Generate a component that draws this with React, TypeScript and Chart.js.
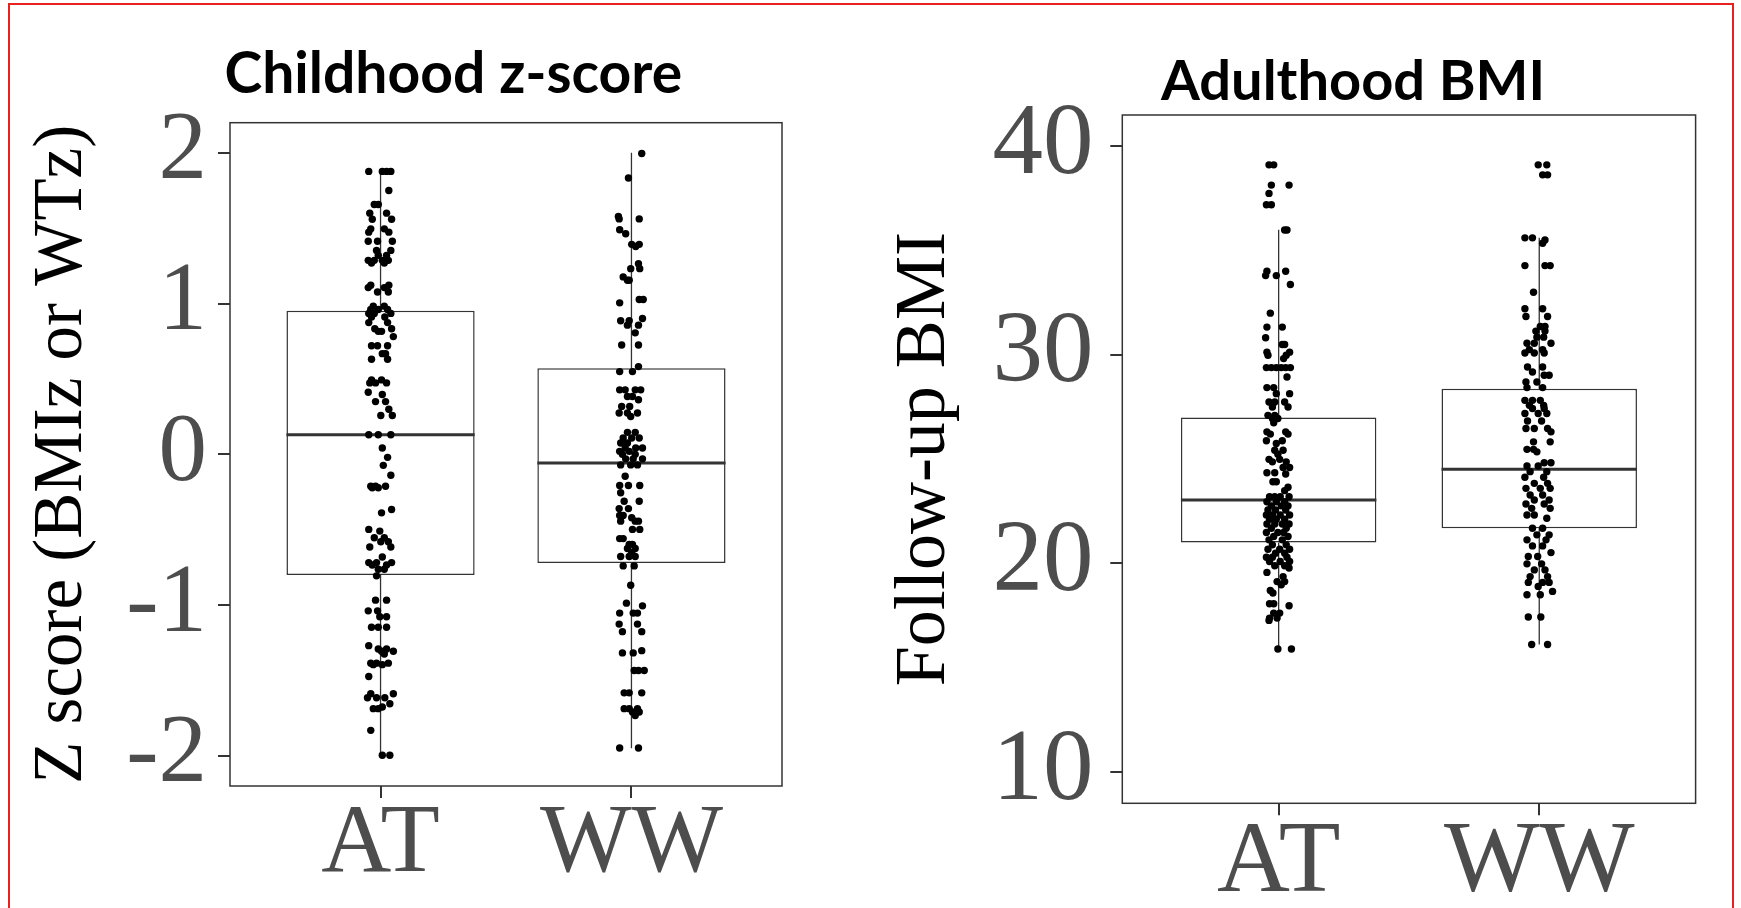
import React, { useEffect, useRef } from "react";
import { Chart, registerables } from "chart.js";

Chart.register(...registerables);

// ---------------- data ----------------
const categories = ["AT", "WW"];

const childhoodTitle = "Childhood z-score";
const childhoodAxisTitle = "Z score (BMIz or WTz)";
const childhoodTicks = [-2, -1, 0, 1, 2];
const childhoodRange = [-2.2, 2.2];
const childhoodMin = [-2.0, -1.95];
const childhoodQ1 = [-0.8, -0.72];
const childhoodMedian = [0.13, -0.057];
const childhoodQ3 = [0.952, 0.571];
const childhoodMax = [1.877, 2.0];

// [horizontal jitter (category units), value]
const childhoodAT: [number, number][] = [
  [-0.047, 1.877], [0.007, 1.877], [0.024, 1.877], [0.041, 1.877],
  [0.033, 1.75], [-0.025, 1.657], [-0.009, 1.657], [-0.043, 1.6], [0.024, 1.6],
  [-0.033, 1.56], [0.044, 1.56], [-0.039, 1.496], [0.015, 1.496], [-0.047, 1.474], [0.033, 1.474],
  [-0.049, 1.414], [-0.012, 1.414], [0.047, 1.414], [-0.016, 1.353], [0.041, 1.353],
  [-0.009, 1.32], [0.024, 1.32], [-0.049, 1.287], [-0.025, 1.287], [0.007, 1.287], [0.031, 1.287],
  [-0.036, 1.269], [0.015, 1.269], [-0.039, 1.122], [0.033, 1.122], [-0.049, 1.106], [0.015, 1.106],
  [-0.012, 1.077], [0.031, 1.077], [-0.029, 0.983], [0.015, 0.983],
  [-0.039, 0.961], [-0.009, 0.961], [0.028, 0.961], [-0.047, 0.935], [-0.025, 0.935], [0.041, 0.935],
  [-0.036, 0.911], [0.017, 0.911], [-0.047, 0.874], [0.028, 0.874], [-0.023, 0.833], [0.044, 0.833],
  [-0.009, 0.816], [0.004, 0.816], [0.051, 0.781], [-0.036, 0.72], [-0.012, 0.72], [0.028, 0.72],
  [0.007, 0.668], [0.02, 0.668], [-0.036, 0.631], [0.028, 0.631], [-0.036, 0.494], [0.004, 0.494],
  [-0.043, 0.474], [-0.02, 0.474], [0.024, 0.474], [-0.049, 0.412], [0.007, 0.397],
  [-0.02, 0.35], [0.02, 0.35], [0.033, 0.299], [0.001, 0.258], [0.047, 0.258],
  [-0.047, 0.13], [-0.009, 0.13], [0.041, 0.13], [0.007, 0.042],
  [0.028, -0.02], [0.011, -0.073], [0.041, -0.139], [-0.039, -0.212], [-0.02, -0.212], [0.02, -0.212],
  [-0.033, -0.222], [-0.009, -0.222], [0.044, -0.366], [0.004, -0.388], [-0.047, -0.498], [-0.003, -0.509],
  [-0.025, -0.553], [0.015, -0.553], [0.001, -0.58], [0.031, -0.58], [-0.043, -0.615], [0.041, -0.615],
  [0.007, -0.681], [-0.047, -0.718], [-0.016, -0.718], [0.044, -0.718], [-0.033, -0.734], [0.024, -0.734],
  [-0.009, -0.762], [0.015, -0.762], [-0.016, -0.806], [-0.02, -0.967], [0.024, -0.967],
  [-0.049, -1.038], [-0.012, -1.038], [-0.003, -1.077], [0.024, -1.077],
  [-0.036, -1.147], [-0.009, -1.147], [0.024, -1.147], [-0.047, -1.269], [-0.009, -1.291], [0.024, -1.291],
  [0.004, -1.306], [0.051, -1.306], [0.015, -1.324], [-0.039, -1.385], [-0.016, -1.385], [0.031, -1.385],
  [-0.029, -1.395], [0.007, -1.395], [-0.047, -1.474], [-0.039, -1.588], [0.051, -1.588],
  [-0.052, -1.615], [-0.016, -1.615], [0.017, -1.615], [0.037, -1.654], [0.007, -1.676],
  [-0.029, -1.687], [-0.009, -1.687], [-0.039, -1.831], [0.007, -1.996], [0.037, -1.996],
];

const childhoodWW: [number, number][] = [
  [0.041, 1.996], [-0.012, 1.833], [-0.052, 1.578], [-0.049, 1.562], [0.031, 1.562], [-0.047, 1.49],
  [-0.023, 1.463], [0.001, 1.393], [0.031, 1.393], [0.017, 1.379], [0.028, 1.265], [-0.003, 1.232],
  [0.033, 1.232], [-0.033, 1.177], [-0.016, 1.155], [-0.009, 1.155], [0.031, 1.027], [0.047, 1.027],
  [-0.047, 1.005], [0.044, 0.901], [-0.043, 0.886], [-0.009, 0.886], [-0.016, 0.857], [0.028, 0.857],
  [0.015, 0.806], [-0.039, 0.725], [0.028, 0.725], [0.028, 0.582], [-0.047, 0.549], [0.004, 0.549],
  [-0.047, 0.428], [-0.025, 0.428], [0.015, 0.428], [0.037, 0.428], [-0.016, 0.384], [0.004, 0.384],
  [0.028, 0.362], [-0.039, 0.318], [-0.007, 0.318], [-0.049, 0.274], [-0.016, 0.274], [0.024, 0.274],
  [-0.003, 0.251], [-0.016, 0.146], [0.015, 0.146], [-0.033, 0.108], [0.001, 0.108], [0.031, 0.108],
  [-0.043, 0.075], [-0.016, 0.075], [-0.025, 0.042], [0.017, 0.042], [0.044, 0.042],
  [-0.047, 0.02], [-0.009, 0.02], [-0.036, 0.0], [0.015, 0.0], [-0.023, -0.03], [0.007, -0.03],
  [0.044, -0.03], [-0.043, -0.07], [-0.003, -0.07], [0.024, -0.07], [-0.025, -0.145],
  [-0.047, -0.207], [-0.012, -0.207], [0.033, -0.207], [-0.043, -0.255], [-0.029, -0.311], [0.031, -0.311],
  [-0.049, -0.36], [-0.012, -0.36], [-0.047, -0.405], [-0.033, -0.405], [0.001, -0.42],
  [-0.043, -0.443], [0.015, -0.443], [0.028, -0.443], [0.004, -0.498], [0.033, -0.498],
  [-0.047, -0.559], [-0.033, -0.559], [-0.009, -0.597], [0.004, -0.597], [-0.016, -0.625], [0.015, -0.625],
  [0.001, -0.652], [-0.043, -0.678], [-0.009, -0.678], [0.015, -0.678], [-0.033, -0.74], [0.011, -0.74],
  [-0.003, -0.868], [-0.02, -0.987], [0.044, -1.005], [-0.047, -1.053], [0.007, -1.053], [0.024, -1.053],
  [-0.049, -1.126], [0.024, -1.126], [-0.036, -1.176], [0.041, -1.176], [0.041, -1.302],
  [-0.036, -1.317], [0.007, -1.317], [0.011, -1.434], [0.028, -1.434], [0.051, -1.434],
  [-0.029, -1.582], [-0.009, -1.582], [0.041, -1.582], [-0.029, -1.687], [-0.009, -1.687], [0.024, -1.687],
  [0.004, -1.709], [0.031, -1.709], [0.015, -1.732], [-0.047, -1.948], [0.028, -1.948],
];

const adultTitle = "Adulthood BMI";
const adultAxisTitle = "Follow-up BMI";
const adultTicks = [10, 20, 30, 40];
const adultRange = [8.5, 41.5];
const adultMin = [15.9, 16.11];
const adultQ1 = [21.0, 21.69];
const adultMedian = [23.04, 24.51];
const adultQ3 = [27.0, 28.38];
const adultMax = [36.0, 35.61];

const adultAT: [number, number][] = [
  [-0.037, 39.11], [-0.019, 39.11], [-0.028, 38.14], [0.04, 38.14], [-0.037, 37.74], [-0.047, 37.2],
  [-0.028, 37.2], [0.023, 35.99], [0.032, 35.99], [-0.045, 34.01], [0.027, 34.01], [-0.05, 33.8],
  [-0.009, 33.8], [0.045, 33.37], [-0.032, 32.0], [-0.045, 31.33], [0.014, 31.33], [-0.05, 30.82],
  [0.014, 30.5], [0.023, 30.5], [-0.045, 30.13], [0.042, 30.13], [-0.041, 29.98], [0.029, 29.98],
  [0.019, 29.82], [-0.047, 29.39], [-0.028, 29.39], [-0.009, 29.39], [0.01, 29.39], [0.027, 29.39],
  [0.045, 29.39], [0.032, 28.94], [-0.045, 28.43], [-0.019, 28.43], [-0.009, 28.14], [0.042, 28.14],
  [-0.037, 27.74], [-0.015, 27.74], [0.023, 27.74], [-0.024, 27.5], [0.036, 27.5], [-0.041, 27.1],
  [-0.015, 27.1], [-0.024, 26.95], [-0.003, 26.95], [-0.019, 26.74], [-0.045, 26.31], [0.027, 26.31],
  [-0.032, 26.2], [0.036, 26.2], [-0.047, 25.88], [0.014, 25.88], [-0.009, 25.75], [-0.015, 25.43],
  [0.017, 25.43], [-0.003, 25.24], [-0.037, 24.99], [0.004, 24.99], [-0.024, 24.87], [0.029, 24.87],
  [0.017, 24.6], [0.042, 24.6], [-0.045, 24.35], [-0.015, 24.35], [0.027, 24.29], [-0.022, 23.92],
  [-0.009, 23.92], [0.036, 23.65], [0.023, 23.49], [-0.035, 23.2], [-0.015, 23.2], [0.006, 23.2],
  [0.04, 23.2], [-0.045, 22.96], [-0.009, 22.96], [0.023, 22.96], [-0.028, 22.76], [0.01, 22.76],
  [0.036, 22.76], [-0.041, 22.56], [-0.012, 22.56], [0.027, 22.56], [-0.047, 22.32], [-0.024, 22.32],
  [0.006, 22.32], [0.042, 22.32], [-0.035, 22.12], [-0.009, 22.12], [0.023, 22.12], [-0.045, 21.89],
  [-0.015, 21.89], [0.014, 21.89], [0.04, 21.89], [-0.028, 21.69], [0.029, 21.69], [-0.047, 21.48],
  [-0.003, 21.48], [0.019, 21.48], [-0.019, 21.29], [0.036, 21.29], [-0.037, 21.13], [0.014, 21.13],
  [-0.024, 20.89], [0.029, 20.89], [-0.041, 20.68], [0.004, 20.68], [0.042, 20.68], [-0.012, 20.49],
  [0.023, 20.49], [-0.047, 20.3], [-0.024, 20.3], [0.032, 20.3], [-0.035, 20.09], [0.006, 20.09],
  [0.042, 20.09], [-0.015, 19.89], [0.023, 19.89], [0.04, 19.78], [-0.045, 19.57], [0.017, 19.37],
  [-0.006, 19.13], [0.023, 19.13], [0.01, 18.98], [-0.032, 18.7], [-0.022, 18.58], [-0.035, 18.07],
  [-0.019, 18.07], [0.04, 17.97], [-0.019, 17.62], [0.004, 17.62], [-0.035, 17.38], [-0.006, 17.38],
  [-0.037, 17.27], [-0.003, 15.9], [0.049, 15.9],
];

const adultWW: [number, number][] = [
  [-0.004, 39.11], [0.029, 39.11], [0.013, 38.63], [0.032, 38.63], [-0.055, 35.61], [-0.026, 35.61],
  [0.022, 35.51], [0.013, 35.35], [-0.055, 34.28], [0.022, 34.28], [0.042, 34.28], [-0.022, 33.0],
  [-0.055, 32.21], [0.013, 32.21], [-0.051, 31.84], [0.032, 31.84], [0.004, 31.36], [0.022, 31.36],
  [-0.013, 31.14], [0.022, 31.14], [-0.009, 30.85], [0.017, 30.85], [-0.047, 30.56], [-0.019, 30.56],
  [0.045, 30.56], [-0.038, 30.25], [0.013, 30.25], [-0.055, 30.09], [-0.019, 30.09], [0.019, 30.09],
  [-0.045, 29.42], [0.013, 29.42], [-0.026, 29.18], [0.019, 29.02], [0.038, 29.02], [-0.051, 28.7],
  [-0.009, 28.7], [-0.047, 28.43], [0.013, 28.43], [-0.055, 27.82], [-0.026, 27.82], [0.004, 27.82],
  [-0.038, 27.58], [0.017, 27.58], [-0.026, 27.43], [0.019, 27.43], [-0.055, 27.19], [-0.004, 27.19],
  [0.029, 27.19], [-0.045, 26.83], [0.009, 26.83], [-0.051, 26.47], [-0.019, 26.47], [0.032, 26.47],
  [0.045, 26.31], [-0.022, 25.83], [0.042, 25.83], [-0.047, 25.47], [-0.022, 25.47], [-0.009, 25.35],
  [0.019, 24.83], [0.045, 24.83], [-0.047, 24.67], [-0.004, 24.67], [-0.035, 24.4], [0.029, 24.4],
  [-0.055, 24.13], [0.017, 24.13], [-0.019, 23.84], [0.032, 23.84], [-0.051, 23.6], [0.004, 23.6],
  [0.042, 23.6], [-0.035, 23.28], [0.013, 23.28], [-0.019, 23.04], [0.038, 23.04], [-0.051, 22.85],
  [0.019, 22.85], [-0.029, 22.64], [0.042, 22.64], [-0.047, 22.32], [-0.019, 22.32], [0.029, 22.17],
  [-0.026, 21.69], [0.013, 21.69], [-0.009, 21.37], [0.038, 21.37], [-0.047, 21.13], [0.026, 21.13],
  [-0.026, 20.84], [0.013, 20.84], [0.045, 20.52], [-0.042, 20.33], [-0.006, 20.33], [-0.047, 19.98],
  [0.009, 19.98], [-0.019, 19.69], [0.022, 19.69], [-0.035, 19.37], [0.032, 19.37], [-0.042, 19.09],
  [0.013, 19.09], [0.038, 19.09], [-0.004, 18.9], [0.051, 18.66], [-0.047, 18.5], [0.004, 18.5],
  [-0.042, 17.43], [0.006, 17.43], [-0.029, 16.11], [0.032, 16.11],
];

// ---------------- styling / layout ----------------
const SERIF = '"Liberation Serif", "Times New Roman", Times, serif';
const TITLE_FONT = '"Comic Sans MS", Lato, sans-serif';
const LINE = "#333333";
const TICK_TEXT = "#4d4d4d";
const BOX_WIDTH = 0.75;

type Panel = {
  title: string;
  axisTitle: string;
  ticks: number[];
  range: number[];
  mins: number[];
  q1: number[];
  med: number[];
  q3: number[];
  maxs: number[];
  groups: [number, number][][];
  width: number;
  height: number;
  plotLeft: number;
  plotRight: number;
  plotTop: number;
  plotBottom: number;
  tickSize: number;
  axisTitleSize: number;
  axisTitlePad: number;
  tickPad: number;
  xTickPad: number;
  titleX: number;
  titleY: number;
  titleSize: number;
};

const panelFrame = {
  id: "panelFrame",
  afterDatasetsDraw(chart: any) {
    const { ctx, chartArea } = chart;
    ctx.save();
    ctx.strokeStyle = LINE;
    ctx.lineWidth = 1.5;
    ctx.strokeRect(chartArea.left, chartArea.top, chartArea.right - chartArea.left, chartArea.bottom - chartArea.top);
    ctx.restore();
  },
};

const panelTitle = {
  id: "panelTitle",
  afterDraw(chart: any, _args: any, opts: any) {
    const { ctx } = chart;
    ctx.save();
    ctx.font = `bold ${opts.size}px ${TITLE_FONT}`;
    ctx.fillStyle = "#000";
    ctx.textAlign = "left";
    ctx.textBaseline = "alphabetic";
    ctx.fillText(opts.text, opts.x, opts.y);
    ctx.restore();
  },
};

function buildConfig(p: Panel): any {
  const points: { x: number; y: number }[] = [];
  p.groups.forEach((g, gi) => g.forEach(([j, v]) => points.push({ x: gi + 1 + j, y: v })));

  const whiskers: { x: number; y: number | null }[] = [];
  const medians: { x: number; y: number | null }[] = [];
  const boxes: { x: number; y: number[] }[] = [];
  categories.forEach((_, i) => {
    const c = i + 1;
    whiskers.push({ x: c, y: p.q3[i] }, { x: c, y: p.maxs[i] }, { x: c, y: null });
    whiskers.push({ x: c, y: p.q1[i] }, { x: c, y: p.mins[i] }, { x: c, y: null });
    medians.push({ x: c - BOX_WIDTH / 2, y: p.med[i] }, { x: c + BOX_WIDTH / 2, y: p.med[i] }, { x: c, y: null });
    boxes.push({ x: c, y: [p.q1[i], p.q3[i]] });
  });

  return {
    type: "scatter",
    data: {
      datasets: [
        { type: "scatter", data: points, pointRadius: 3.7, pointHoverRadius: 3.7, backgroundColor: "#000", borderWidth: 0, order: 0 },
        { type: "line", data: medians, borderColor: LINE, borderWidth: 3, pointRadius: 0, spanGaps: false, fill: false, order: 1 },
        { type: "line", data: whiskers, borderColor: LINE, borderWidth: 1.3, pointRadius: 0, spanGaps: false, fill: false, order: 2 },
        {
          type: "bar", data: boxes, backgroundColor: "#ffffff", borderColor: LINE, borderWidth: 1.5,
          borderSkipped: false, barPercentage: BOX_WIDTH, categoryPercentage: 1, order: 3,
        },
      ],
    },
    options: {
      responsive: false,
      animation: false,
      events: [],
      layout: {
        padding: { left: 0, top: p.plotTop, right: p.width - p.plotRight, bottom: 0 },
      },
      plugins: {
        legend: { display: false },
        tooltip: { enabled: false },
        title: { display: false },
        panelTitle: { text: p.title, x: p.titleX, y: p.titleY, size: p.titleSize },
      },
      scales: {
        x: {
          type: "linear",
          min: 0.4,
          max: 2.6,
          offset: false,
          afterBuildTicks: (s: any) => { s.ticks = categories.map((_, i) => ({ value: i + 1 })); },
          afterFit: (s: any) => { s.height = p.height - p.plotBottom; },
          ticks: {
            autoSkip: false,
            maxRotation: 0,
            minRotation: 0,
            padding: p.xTickPad,
            color: TICK_TEXT,
            font: { family: SERIF, size: p.tickSize },
            callback: (v: any) => categories[Math.round(Number(v)) - 1] ?? "",
          },
          grid: { offset: false, drawOnChartArea: false, drawTicks: true, tickLength: 12, color: LINE, lineWidth: 2 },
          border: { display: false },
        },
        y: {
          type: "linear",
          min: p.range[0],
          max: p.range[1],
          afterBuildTicks: (s: any) => { s.ticks = p.ticks.map((v) => ({ value: v })); },
          afterFit: (s: any) => { s.width = p.plotLeft; },
          ticks: {
            autoSkip: false,
            padding: p.tickPad,
            color: TICK_TEXT,
            font: { family: SERIF, size: p.tickSize },
            callback: (v: any) => String(v),
          },
          grid: { drawOnChartArea: false, drawTicks: true, tickLength: 12, color: LINE, lineWidth: 2 },
          border: { display: false },
          title: {
            display: true,
            text: p.axisTitle,
            color: "#000",
            font: { family: SERIF, size: p.axisTitleSize },
            padding: { top: p.axisTitlePad, bottom: 0 },
          },
        },
      },
    },
    plugins: [panelFrame, panelTitle],
  };
}

const leftPanel: Panel = {
  title: childhoodTitle, axisTitle: childhoodAxisTitle, ticks: childhoodTicks, range: childhoodRange,
  mins: childhoodMin, q1: childhoodQ1, med: childhoodMedian, q3: childhoodQ3, maxs: childhoodMax,
  groups: [childhoodAT, childhoodWW],
  width: 880, height: 908, plotLeft: 230, plotRight: 782, plotTop: 122.7, plotBottom: 786,
  tickSize: 97, axisTitleSize: 69, axisTitlePad: 21.6, tickPad: 11, xTickPad: -11,
  titleX: 224.5, titleY: 93, titleSize: 57,
};

const rightPanel: Panel = {
  title: adultTitle, axisTitle: adultAxisTitle, ticks: adultTicks, range: adultRange,
  mins: adultMin, q1: adultQ1, med: adultMedian, q3: adultQ3, maxs: adultMax,
  groups: [adultAT, adultWW],
  width: 861, height: 908, plotLeft: 242.3, plotRight: 815.6, plotTop: 115, plotBottom: 803.3,
  tickSize: 101, axisTitleSize: 72, axisTitlePad: 1.8, tickPad: 16.7, xTickPad: -11,
  titleX: 281, titleY: 100, titleSize: 56,
};

function PanelChart({ panel, left }: { panel: Panel; left: number }) {
  const ref = useRef<HTMLCanvasElement | null>(null);
  useEffect(() => {
    if (!ref.current) return;
    const chart = new Chart(ref.current, buildConfig(panel));
    return () => chart.destroy();
  }, [panel]);
  return (
    <canvas
      ref={ref}
      width={panel.width}
      height={panel.height}
      style={{ position: "absolute", left, top: 0, width: panel.width, height: panel.height }}
    />
  );
}

export default function App() {
  return (
    <div style={{ position: "absolute", left: 0, top: 0, width: 1741, height: 908, background: "#fff", overflow: "hidden" }}>
      <PanelChart panel={leftPanel} left={0} />
      <PanelChart panel={rightPanel} left={880} />
      <div
        style={{
          position: "absolute", left: 8, top: 3, width: 1726, height: 920,
          border: "2px solid #e8201e", boxSizing: "border-box", pointerEvents: "none",
        }}
      />
    </div>
  );
}
